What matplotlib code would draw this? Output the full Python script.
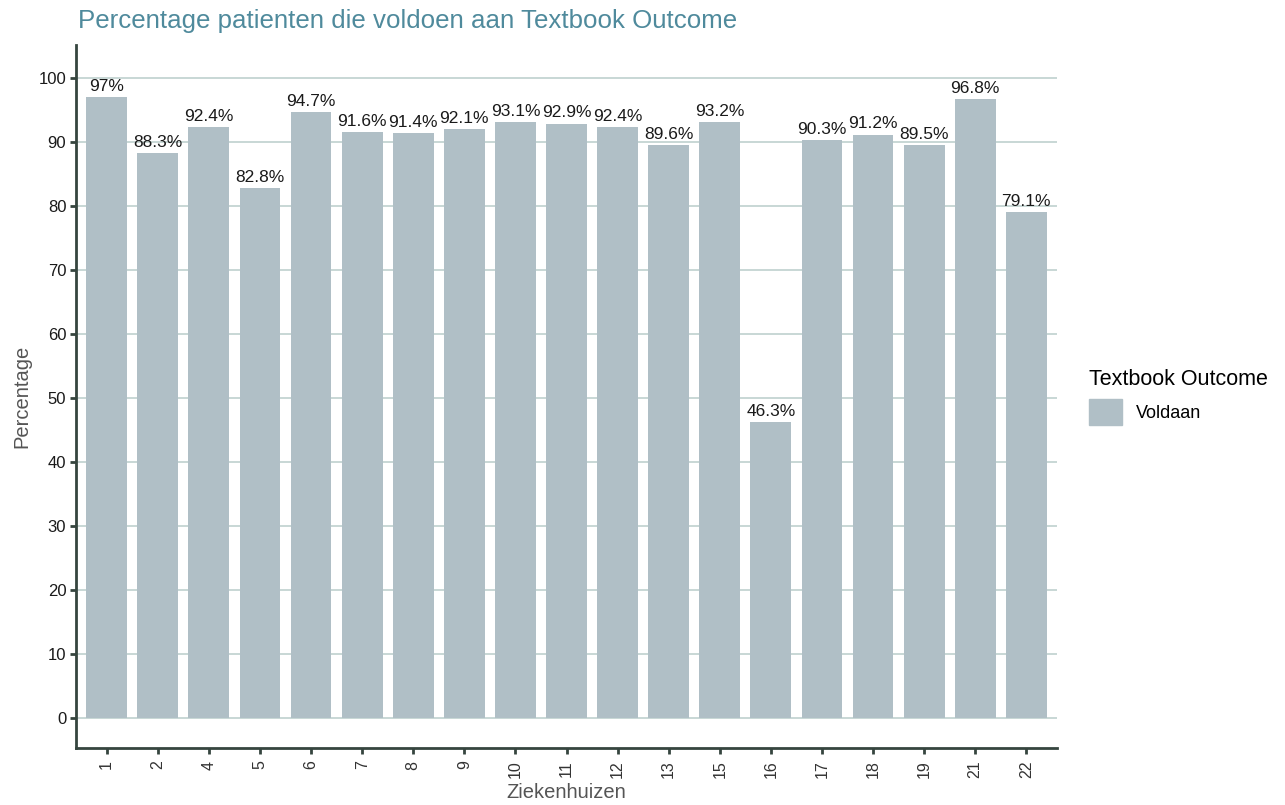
"""
Percentage patienten die voldoen aan Textbook Outcome per ziekenhuis
"""
import matplotlib.pyplot as plt
import matplotlib.patches as mpatches
import numpy as np

plt.rcParams["font.family"] = ["Liberation Sans", "DejaVu Sans"]

hospitals = ["1", "2", "4", "5", "6", "7", "8", "9", "10", "11", "12",
             "13", "15", "16", "17", "18", "19", "21", "22"]
percentages = [97, 88.3, 92.4, 82.8, 94.7, 91.6, 91.4, 92.1, 93.1, 92.9, 92.4,
               89.6, 93.2, 46.3, 90.3, 91.2, 89.5, 96.8, 79.1]
y_ticks = [0, 10, 20, 30, 40, 50, 60, 70, 80, 90, 100]

bar_colour = "#b0bfc6"
axis_colour = "#36453f"
grid_colour = "#b9cdca"

fig = plt.figure(figsize=(12.85, 8.05), dpi=100)
ax = fig.add_axes([76 / 1285, 57 / 805, 981 / 1285, 703 / 805])

x = np.arange(len(hospitals))
ax.bar(x, percentages, width=0.8, color=bar_colour, zorder=2)

# value labels on top of each bar
for xi, val in zip(x, percentages):
    ax.text(xi, val + 0.5, f"{val:g}%", ha="center", va="bottom", fontsize=12.5,
            color="#1a1a1a", zorder=3)

ax.set_xlim(-0.6, len(hospitals) - 0.4)
ax.set_ylim(-4.7, 105.2)
ax.set_xticks(x)
ax.set_xticklabels(hospitals, rotation=90, fontsize=11.5)
ax.set_yticks(y_ticks)
ax.set_yticklabels([str(t) for t in y_ticks], fontsize=12)

ax.grid(axis="y", color=grid_colour, linewidth=1.1, zorder=0)
ax.set_axisbelow(True)

for side in ["top", "right"]:
    ax.spines[side].set_visible(False)
for side in ["left", "bottom"]:
    ax.spines[side].set_color(axis_colour)
    ax.spines[side].set_linewidth(2)
ax.tick_params(axis="both", colors=axis_colour, width=2, length=4)
ax.tick_params(axis="x", labelcolor="#333333", pad=5)
ax.tick_params(axis="y", labelcolor="#1a1a1a", pad=3)

ax.set_xlabel("Ziekenhuizen", fontsize=14.5, color="#555555", labelpad=3)
ax.set_ylabel("Percentage", fontsize=14.5, color="#555555", labelpad=5)

fig.text(78 / 1285, 1 - 21 / 805, "Percentage patienten die voldoen aan Textbook Outcome",
         fontsize=18.6, color="#4f8a9c", ha="left", va="center")

handle = mpatches.Patch(color=bar_colour, label="Voldaan")
leg = fig.legend(handles=[handle], title="Textbook Outcome", loc="upper left",
                 bbox_to_anchor=(1082 / 1285, 1 - 362 / 805), frameon=False,
                 fontsize=13, title_fontsize=15.5, handlelength=1.8, handleheight=1.8,
                 borderaxespad=0)
leg._legend_box.align = "left"

plt.savefig("out.png", dpi=100)
